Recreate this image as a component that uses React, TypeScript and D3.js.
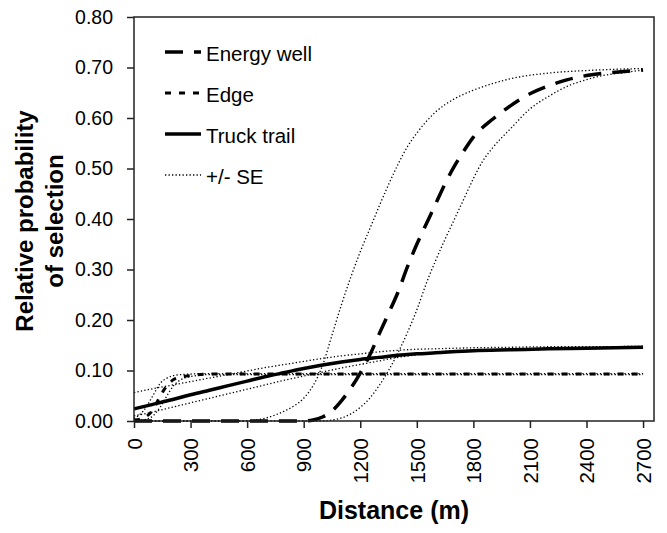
import { useEffect, useRef } from "react";
import * as d3 from "d3";

// ---- data (distance in m, relative probability) ----
const wellDist = [0, 300, 600, 900, 950, 1000, 1050, 1100, 1150, 1200, 1250, 1300, 1350, 1400, 1450, 1500, 1550, 1600, 1650, 1700, 1750, 1800, 1900, 2000, 2100, 2200, 2300, 2400, 2500, 2600, 2700];
const wellValue = [0, 0, 0, 0, 0.002, 0.008, 0.02, 0.04, 0.065, 0.095, 0.13, 0.172, 0.213, 0.255, 0.305, 0.35, 0.39, 0.43, 0.47, 0.505, 0.535, 0.562, 0.597, 0.625, 0.648, 0.664, 0.676, 0.684, 0.689, 0.692, 0.695];

const wellUpperDist = [0, 300, 600, 650, 700, 750, 800, 850, 900, 950, 1000, 1050, 1100, 1150, 1200, 1250, 1300, 1350, 1400, 1450, 1500, 1600, 1700, 1800, 1900, 2000, 2200, 2400, 2600, 2700];
const wellUpperValue = [0, 0, 0, 0.002, 0.006, 0.012, 0.02, 0.03, 0.045, 0.07, 0.11, 0.17, 0.23, 0.285, 0.335, 0.38, 0.425, 0.468, 0.508, 0.543, 0.57, 0.612, 0.638, 0.655, 0.668, 0.678, 0.689, 0.694, 0.697, 0.698];

const wellLowerDist = [0, 300, 600, 900, 1000, 1050, 1100, 1150, 1200, 1250, 1300, 1350, 1400, 1450, 1500, 1550, 1600, 1650, 1700, 1750, 1800, 1850, 1900, 2000, 2100, 2200, 2300, 2400, 2500, 2600, 2700];
const wellLowerValue = [0, 0, 0, 0, 0, 0.002, 0.006, 0.014, 0.027, 0.045, 0.07, 0.1, 0.135, 0.175, 0.22, 0.272, 0.318, 0.36, 0.4, 0.44, 0.48, 0.515, 0.54, 0.58, 0.618, 0.643, 0.663, 0.676, 0.685, 0.69, 0.695];

const edgeDist = [0, 50, 100, 140, 175, 210, 250, 300, 400, 600, 900, 1200, 1500, 1800, 2100, 2400, 2700];
const edgeValue = [0.002, 0.006, 0.022, 0.05, 0.07, 0.082, 0.087, 0.09, 0.093, 0.093, 0.093, 0.093, 0.093, 0.093, 0.093, 0.093, 0.093];
const edgeUpperValue = [0.005, 0.02, 0.05, 0.075, 0.085, 0.09, 0.092, 0.093, 0.094, 0.094, 0.094, 0.094, 0.094, 0.094, 0.094, 0.094, 0.094];
const edgeLowerValue = [0, 0.002, 0.01, 0.028, 0.05, 0.07, 0.082, 0.088, 0.092, 0.092, 0.092, 0.092, 0.092, 0.092, 0.092, 0.092, 0.092];

const trailDist = [0, 100, 200, 300, 400, 500, 600, 700, 800, 900, 1000, 1100, 1200, 1300, 1400, 1500, 1600, 1800, 2000, 2200, 2400, 2700];
const trailValue = [0.024, 0.033, 0.042, 0.052, 0.061, 0.07, 0.079, 0.088, 0.096, 0.104, 0.111, 0.117, 0.122, 0.126, 0.13, 0.133, 0.135, 0.139, 0.141, 0.143, 0.144, 0.146];
const trailUpperValue = [0.056, 0.064, 0.071, 0.078, 0.085, 0.092, 0.099, 0.106, 0.112, 0.118, 0.124, 0.129, 0.133, 0.137, 0.14, 0.142, 0.143, 0.145, 0.146, 0.147, 0.147, 0.148];
const trailLowerValue = [0.01, 0.018, 0.027, 0.036, 0.045, 0.054, 0.063, 0.072, 0.081, 0.089, 0.097, 0.105, 0.112, 0.119, 0.126, 0.131, 0.136, 0.14, 0.142, 0.143, 0.144, 0.145];

const xTicks = [0, 300, 600, 900, 1200, 1500, 1800, 2100, 2400, 2700];
const yTicks = [0, 0.1, 0.2, 0.3, 0.4, 0.5, 0.6, 0.7, 0.8];

const legendItems = [
  { label: "Energy well", dash: "18,11", width: 3.5 },
  { label: "Edge", dash: "6,8", width: 3 },
  { label: "Truck trail", dash: null, width: 3.5 },
  { label: "+/- SE", dash: "1.3,2.2", width: 1.3 },
];

const FONT = "Arial, 'Liberation Sans', Helvetica, sans-serif";
const SE_DASH = "1.3,2.2";

export default function App() {
  const ref = useRef<SVGSVGElement | null>(null);

  useEffect(() => {
    const el = ref.current;
    if (!el) return;
    const svg = d3.select(el);
    svg.selectAll("*").remove();

    const left = 134, right = 654, top = 17, bottom = 421;
    const x = d3.scaleLinear().domain([0, 2758]).range([left, right]);
    const y = d3.scaleLinear().domain([0, 0.8]).range([bottom, top]);

    const line = d3
      .line<[number, number]>()
      .x((d) => x(d[0]))
      .y((d) => y(d[1]))
      .curve(d3.curveMonotoneX);

    const zip = (xs: number[], ys: number[]) =>
      xs.map((d, i) => [d, ys[i]] as [number, number]);

    const plot = svg.append("g");

    const draw = (pts: [number, number][], width: number, dash: string | null) => {
      plot
        .append("path")
        .attr("d", line(pts))
        .attr("fill", "none")
        .attr("stroke", "#000")
        .attr("stroke-width", width)
        .attr("stroke-dasharray", dash)
        .attr("stroke-linejoin", "round");
    };

    // SE bands
    draw(zip(wellUpperDist, wellUpperValue), 1.3, SE_DASH);
    draw(zip(wellLowerDist, wellLowerValue), 1.3, SE_DASH);
    draw(zip(edgeDist, edgeUpperValue), 1.3, SE_DASH);
    draw(zip(edgeDist, edgeLowerValue), 1.3, SE_DASH);
    draw(zip(trailDist, trailUpperValue), 1.3, SE_DASH);
    draw(zip(trailDist, trailLowerValue), 1.3, SE_DASH);

    // main curves
    draw(zip(edgeDist, edgeValue), 3, "6,8");
    draw(zip(trailDist, trailValue), 3.5, null);
    draw(zip(wellDist, wellValue), 3.5, "18,11");

    // frame
    svg
      .append("rect")
      .attr("x", left)
      .attr("y", top)
      .attr("width", right - left)
      .attr("height", bottom - top)
      .attr("fill", "none")
      .attr("stroke", "#222")
      .attr("stroke-width", 1.5);

    // y axis
    const yAxis = svg
      .append("g")
      .attr("transform", `translate(${left},0)`)
      .call(
        d3
          .axisLeft(y)
          .tickValues(yTicks)
          .tickSize(7)
          .tickPadding(14)
          .tickFormat((d) => d3.format(".2f")(d as number))
      );
    yAxis.select(".domain").remove();
    yAxis.selectAll("line").attr("stroke", "#222").attr("stroke-width", 1.5);
    yAxis
      .selectAll("text")
      .attr("font-family", FONT)
      .attr("font-size", 19.5)
      .attr("fill", "#000");

    // x axis
    const xAxis = svg
      .append("g")
      .attr("transform", `translate(0,${bottom})`)
      .call(d3.axisBottom(x).tickValues(xTicks).tickSize(7).tickFormat((d) => String(d)));
    xAxis.select(".domain").remove();
    xAxis.selectAll("line").attr("stroke", "#222").attr("stroke-width", 1.5);
    xAxis
      .selectAll("text")
      .attr("font-family", FONT)
      .attr("font-size", 20.5)
      .attr("fill", "#000")
      .attr("text-anchor", "end")
      .attr("dy", "0.35em")
      .attr("y", 0)
      .attr("transform", "translate(0,17) rotate(-90)");

    // axis titles
    svg
      .append("text")
      .attr("x", 394)
      .attr("y", 519)
      .attr("text-anchor", "middle")
      .attr("font-family", FONT)
      .attr("font-weight", "bold")
      .attr("font-size", 25)
      .text("Distance (m)");

    const yTitle = svg
      .append("text")
      .attr("transform", "translate(0,221) rotate(-90)")
      .attr("text-anchor", "middle")
      .attr("font-family", FONT)
      .attr("font-weight", "bold")
      .attr("font-size", 24);
    yTitle.append("tspan").attr("x", 0).attr("y", 33).text("Relative probability");
    yTitle.append("tspan").attr("x", 0).attr("y", 63).text("of selection");

    // legend
    const legend = svg.append("g");
    legendItems.forEach((item, i) => {
      const base = 61 + i * 41;
      legend
        .append("line")
        .attr("x1", 165)
        .attr("x2", 201)
        .attr("y1", base - 9)
        .attr("y2", base - 9)
        .attr("stroke", "#000")
        .attr("stroke-width", item.width)
        .attr("stroke-dasharray", item.dash);
      legend
        .append("text")
        .attr("x", 206)
        .attr("y", base)
        .attr("font-family", FONT)
        .attr("font-size", 20.5)
        .attr("fill", "#000")
        .text(item.label);
    });
  }, []);

  return (
    <svg
      ref={ref}
      width={667}
      height={533}
      style={{ position: "absolute", left: 0, top: 0, background: "#fff" }}
    />
  );
}
